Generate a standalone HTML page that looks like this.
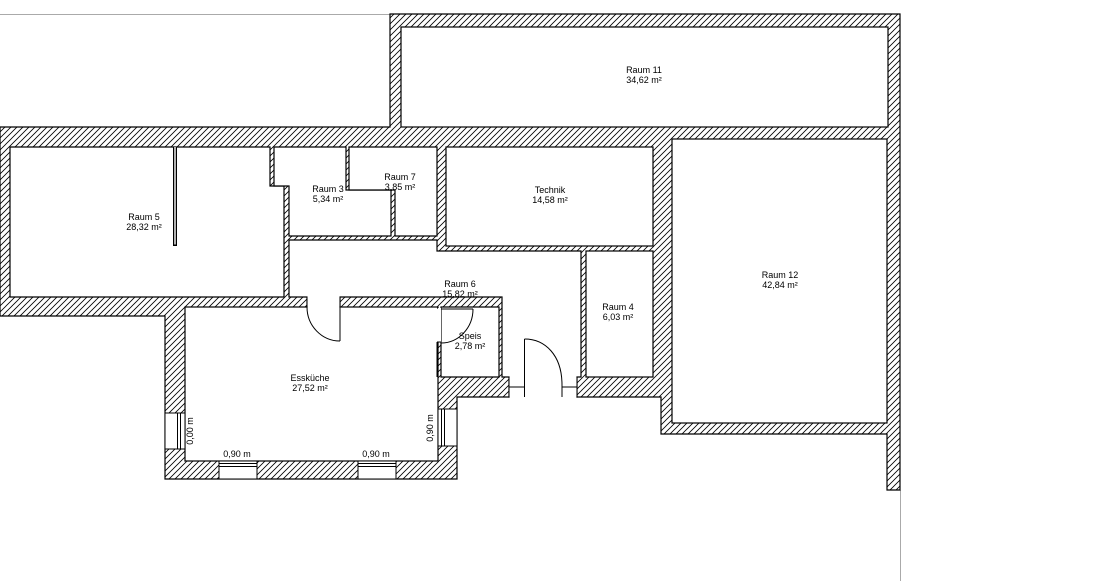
<!DOCTYPE html>
<html><head><meta charset="utf-8"><style>
html,body{margin:0;padding:0;background:#fff;}
svg{display:block;}
text{font-family:"Liberation Sans",sans-serif;font-size:9px;fill:#000;}
</style></head><body>
<svg width="1113" height="581" viewBox="0 0 1113 581" xmlns="http://www.w3.org/2000/svg">
<defs>
<pattern id="h" patternUnits="userSpaceOnUse" width="6" height="6">
<rect width="6" height="6" fill="#fff"/>
<path d="M-1,7 L7,-1 M-4,4 L4,-4 M2,10 L10,2" stroke="#000" stroke-width="0.8"/>
</pattern>
</defs>
<line x1="0" y1="14.5" x2="390" y2="14.5" stroke="#aaa"/>
<line x1="900.5" y1="490" x2="900.5" y2="581" stroke="#aaa"/>
<!-- building -->
<path d="M390,14 H900 V490 H887 V434 H661 V397 H457 V479 H165 V316 H0 V127 H390 Z" fill="url(#h)" stroke="#000" stroke-width="1.2"/>
<g fill="#fff" stroke="#000" stroke-width="1.2">
<!-- Raum 11 -->
<rect x="401" y="27" width="487" height="100"/>
<!-- Raum 5 -->
<path d="M10,147 H270 V186 H284 V297 H10 Z"/>
<!-- Raum 3 -->
<path d="M274,147 H346 V190 H391 V236 H289 V186 H274 Z"/>
<!-- Raum 7 -->
<path d="M349,147 H437 V236 H395 V190 H349 Z"/>
<!-- Technik -->
<rect x="446" y="147" width="207" height="99"/>
<!-- Raum 4 -->
<rect x="586" y="251" width="67" height="126"/>
<!-- Raum 12 -->
<rect x="672" y="139" width="215" height="284"/>
<!-- Hall -->
<path d="M289,240 H437 V251 H581 V377 H577 V397 H509 V377 H502 V297 H340 V307 H307 V297 H289 Z"/>
<!-- Speis -->
<path d="M441,307 H499 V377 H441 Z"/>
<!-- Esskueche -->
<rect x="185" y="307" width="253" height="154"/>
</g>
<!-- fix openings (white over walls) -->
<rect x="307.6" y="296" width="31.8" height="12" fill="#fff"/>
<rect x="509.6" y="377.6" width="66.8" height="21" fill="#fff"/>
<rect x="436" y="308" width="5" height="34" fill="#fff"/>
<line x1="437" y1="342" x2="441" y2="342" stroke="#000"/>
<line x1="437" y1="342" x2="437" y2="377" stroke="#000"/>
<rect x="437" y="307.6" width="1" height="1" fill="#000"/>
<!-- Raum5 thin wall -->
<rect x="173" y="147" width="4" height="99" fill="#000"/>
<rect x="174.3" y="147" width="1.4" height="97.5" fill="#fff"/>
<!-- doors -->
<g fill="none" stroke="#000" stroke-width="1">
<line x1="340" y1="307" x2="340" y2="341"/>
<path d="M307,307 A33,34 0 0 0 340,341"/>
<line x1="441" y1="309" x2="473" y2="309"/>
<path d="M473,309 A32,34 0 0 1 441,343"/>
<line x1="524.5" y1="339" x2="524.5" y2="397"/>
<path d="M524.5,339 C545,339 562,355 562,385 V397"/>
<line x1="509" y1="387" x2="524" y2="387"/>
<line x1="562" y1="387" x2="577" y2="387"/>
</g>
<!-- windows -->
<g fill="#fff" stroke="#000" stroke-width="1">
<rect x="165" y="413" width="20" height="36"/>
<line x1="177.5" y1="413" x2="177.5" y2="449"/><line x1="180.5" y1="413" x2="180.5" y2="449"/>
<rect x="219" y="461" width="38" height="18"/>
<line x1="219" y1="463.5" x2="257" y2="463.5"/><line x1="219" y1="466.5" x2="257" y2="466.5"/>
<rect x="358" y="461" width="38" height="18"/>
<line x1="358" y1="463.5" x2="396" y2="463.5"/><line x1="358" y1="466.5" x2="396" y2="466.5"/>
<rect x="438" y="409" width="19" height="37"/>
<line x1="441.5" y1="409" x2="441.5" y2="446"/><line x1="444.5" y1="409" x2="444.5" y2="446"/>
</g>
<!-- labels -->
<g text-anchor="middle">
<text x="644" y="73">Raum 11</text><text x="644" y="83">34,62 m²</text>
<text x="144" y="220">Raum 5</text><text x="144" y="230">28,32 m²</text>
<text x="328" y="192">Raum 3</text><text x="328" y="202">5,34 m²</text>
<text x="400" y="180">Raum 7</text><text x="400" y="190">3,85 m²</text>
<text x="550" y="193">Technik</text><text x="550" y="203">14,58 m²</text>
<text x="460" y="287">Raum 6</text><text x="460" y="297">15,82 m²</text>
<text x="618" y="310">Raum 4</text><text x="618" y="320">6,03 m²</text>
<text x="780" y="278">Raum 12</text><text x="780" y="288">42,84 m²</text>
<text x="470" y="339">Speis</text><text x="470" y="349">2,78 m²</text>
<text x="310" y="381">Essküche</text><text x="310" y="391">27,52 m²</text>
<text x="237" y="457">0,90 m</text>
<text x="376" y="457">0,90 m</text>
<text transform="translate(193,431) rotate(-90)">0,00 m</text>
<text transform="translate(433,428) rotate(-90)">0,90 m</text>
</g>
</svg>
</body></html>
